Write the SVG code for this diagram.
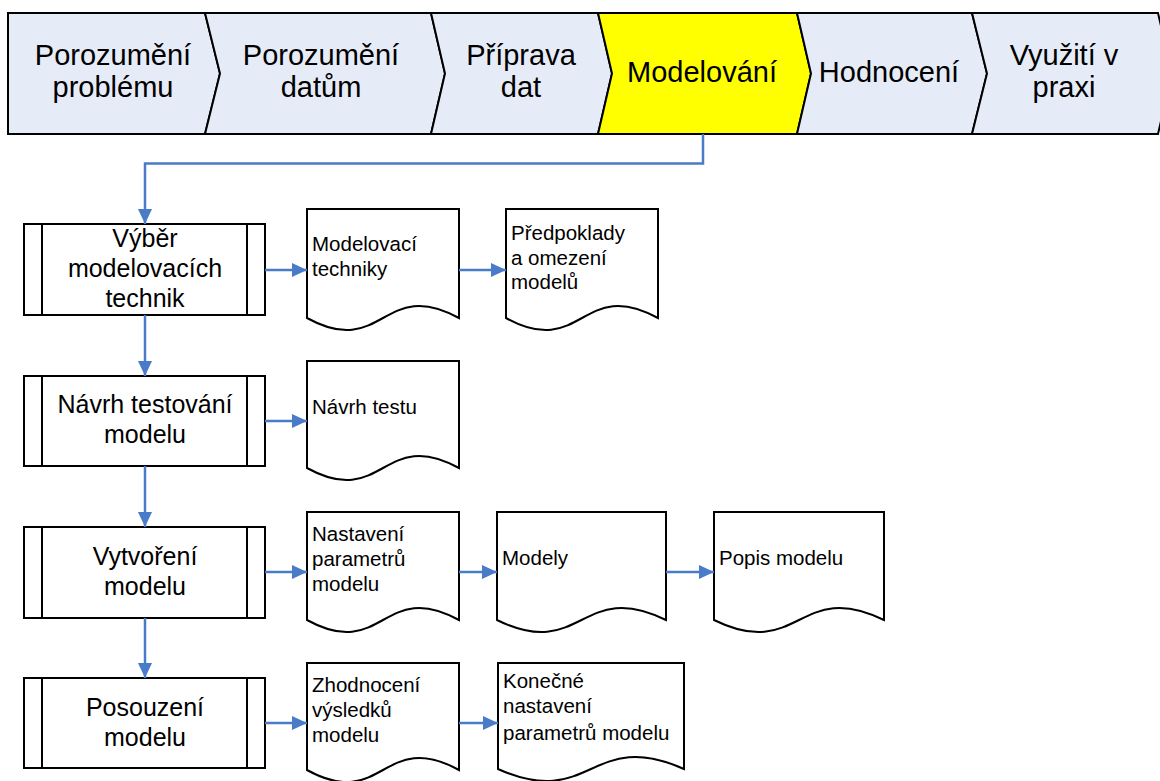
<svg xmlns="http://www.w3.org/2000/svg" width="1160" height="781" viewBox="0 0 1160 781">
  <style>
    .chev { fill: #E6ECF7; stroke: #000; stroke-width: 2; stroke-linejoin: miter; }
    .chev.active { fill: #FFFF00; }
    .proc { fill: #fff; stroke: #000; stroke-width: 2; }
    .doc { fill: #fff; stroke: #000; stroke-width: 2; stroke-linejoin: miter; }
    .bar { fill: none; stroke: #000; stroke-width: 2; }
    .phase { font-family: "Liberation Sans", Arial, sans-serif; font-size: 29px; fill: #000; text-anchor: middle; }
    .ptext { font-family: "Liberation Sans", Arial, sans-serif; font-size: 25px; fill: #000; text-anchor: middle; }
    .dtext { font-family: "Liberation Sans", Arial, sans-serif; font-size: 20.5px; fill: #000; }
    .conn { fill: none; stroke: #4A7BC8; stroke-width: 2.5; }
  </style>
  <defs>
    <marker id="arrow" markerWidth="15" markerHeight="14" refX="15" refY="7" orient="auto" markerUnits="userSpaceOnUse">
      <path d="M0,0 L15,7 L0,14 Z" fill="#4A7BC8"/>
    </marker>
  </defs>

  <!-- Phase bar -->
  <g id="phase-1">
    <path class="chev" d="M8,13 L205,13 L220,73.5 L205,134 L8,134 Z"/>
    <text class="phase" x="113" y="65">Porozumění</text>
    <text class="phase" x="113" y="97">problému</text>
  </g>
  <g id="phase-2">
    <path class="chev" d="M205,13 L431,13 L445,73.5 L431,134 L205,134 L220,73.5 Z"/>
    <text class="phase" x="321" y="65">Porozumění</text>
    <text class="phase" x="321" y="97">datům</text>
  </g>
  <g id="phase-3">
    <path class="chev" d="M431,13 L598,13 L612,73.5 L598,134 L431,134 L445,73.5 Z"/>
    <text class="phase" x="521" y="65">Příprava</text>
    <text class="phase" x="521" y="97">dat</text>
  </g>
  <g id="phase-4">
    <path class="chev active" d="M598,13 L797,13 L811,73.5 L797,134 L598,134 L612,73.5 Z"/>
    <text class="phase" x="702" y="82">Modelování</text>
  </g>
  <g id="phase-5">
    <path class="chev" d="M797,13 L972,13 L987,73.5 L972,134 L797,134 L811,73.5 Z"/>
    <text class="phase" x="889" y="82">Hodnocení</text>
  </g>
  <g id="phase-6">
    <path class="chev" d="M972,13 L1158,13 L1172,73.5 L1158,134 L972,134 L987,73.5 Z"/>
    <text class="phase" x="1064" y="65">Využití v</text>
    <text class="phase" x="1064" y="97">praxi</text>
  </g>

  <!-- Process steps -->
  <g id="step-1">
    <rect class="proc" x="24" y="224" width="241" height="91"/>
    <path class="bar" d="M42,224 V315 M247,224 V315"/>
    <text class="ptext" x="145" y="247">Výběr</text>
    <text class="ptext" x="145" y="277">modelovacích</text>
    <text class="ptext" x="145" y="307">technik</text>
  </g>
  <g id="step-2">
    <rect class="proc" x="24" y="376" width="241" height="90"/>
    <path class="bar" d="M42,376 V466 M247,376 V466"/>
    <text class="ptext" x="145" y="413">Návrh testování</text>
    <text class="ptext" x="145" y="443">modelu</text>
  </g>
  <g id="step-3">
    <rect class="proc" x="24" y="527" width="241" height="91"/>
    <path class="bar" d="M42,527 V618 M247,527 V618"/>
    <text class="ptext" x="145" y="565">Vytvoření</text>
    <text class="ptext" x="145" y="595">modelu</text>
  </g>
  <g id="step-4">
    <rect class="proc" x="24" y="678" width="241" height="90"/>
    <path class="bar" d="M42,678 V768 M247,678 V768"/>
    <text class="ptext" x="145" y="716">Posouzení</text>
    <text class="ptext" x="145" y="746">modelu</text>
  </g>

  <!-- Documents -->
  <g id="doc-techniky">
    <path class="doc" d="M307,209 H459 V318 C383,276 383,360 307,318 Z"/>
    <text class="dtext" x="312" y="251">Modelovací</text>
    <text class="dtext" x="312" y="276">techniky</text>
  </g>
  <g id="doc-predpoklady">
    <path class="doc" d="M506,209 H658 V318 C582,276 582,360 506,318 Z"/>
    <text class="dtext" x="511" y="240">Předpoklady</text>
    <text class="dtext" x="511" y="264.5">a omezení</text>
    <text class="dtext" x="511" y="289">modelů</text>
  </g>
  <g id="doc-navrh-testu">
    <path class="doc" d="M307,361 H459 V468 C383,426 383,510 307,468 Z"/>
    <text class="dtext" x="312" y="414">Návrh testu</text>
  </g>
  <g id="doc-nastaveni">
    <path class="doc" d="M307,512 H459 V620 C383,578 383,662 307,620 Z"/>
    <text class="dtext" x="312" y="541">Nastavení</text>
    <text class="dtext" x="312" y="566">parametrů</text>
    <text class="dtext" x="312" y="591">modelu</text>
  </g>
  <g id="doc-modely">
    <path class="doc" d="M497,512 H666 V620 C581.5,578 581.5,662 497,620 Z"/>
    <text class="dtext" x="502" y="565">Modely</text>
  </g>
  <g id="doc-popis">
    <path class="doc" d="M714,512 H884 V620 C799,578 799,662 714,620 Z"/>
    <text class="dtext" x="719" y="565">Popis modelu</text>
  </g>
  <g id="doc-zhodnoceni">
    <path class="doc" d="M307,663 H459 V770 C383,728 383,812 307,770 Z"/>
    <text class="dtext" x="312" y="692">Zhodnocení</text>
    <text class="dtext" x="312" y="717">výsledků</text>
    <text class="dtext" x="312" y="742">modelu</text>
  </g>
  <g id="doc-konecne">
    <path class="doc" d="M498,663 H684 V769 C591,727 591,811 498,769 Z"/>
    <text class="dtext" x="503" y="688">Konečné</text>
    <text class="dtext" x="503" y="713">nastavení</text>
    <text class="dtext" x="503" y="740">parametrů modelu</text>
  </g>

  <!-- Connectors -->
  <g id="connectors">
    <path class="conn" d="M703,134 V163.5 H145 V224" marker-end="url(#arrow)"/>
    <path class="conn" d="M145,315 V376" marker-end="url(#arrow)"/>
    <path class="conn" d="M145,466 V527" marker-end="url(#arrow)"/>
    <path class="conn" d="M145,618 V678" marker-end="url(#arrow)"/>
    <path class="conn" d="M265,270 H307" marker-end="url(#arrow)"/>
    <path class="conn" d="M459,270 H506" marker-end="url(#arrow)"/>
    <path class="conn" d="M265,421 H307" marker-end="url(#arrow)"/>
    <path class="conn" d="M265,572 H307" marker-end="url(#arrow)"/>
    <path class="conn" d="M459,572 H497" marker-end="url(#arrow)"/>
    <path class="conn" d="M666,572 H714" marker-end="url(#arrow)"/>
    <path class="conn" d="M265,723 H307" marker-end="url(#arrow)"/>
    <path class="conn" d="M459,723 H498" marker-end="url(#arrow)"/>
  </g>
</svg>
